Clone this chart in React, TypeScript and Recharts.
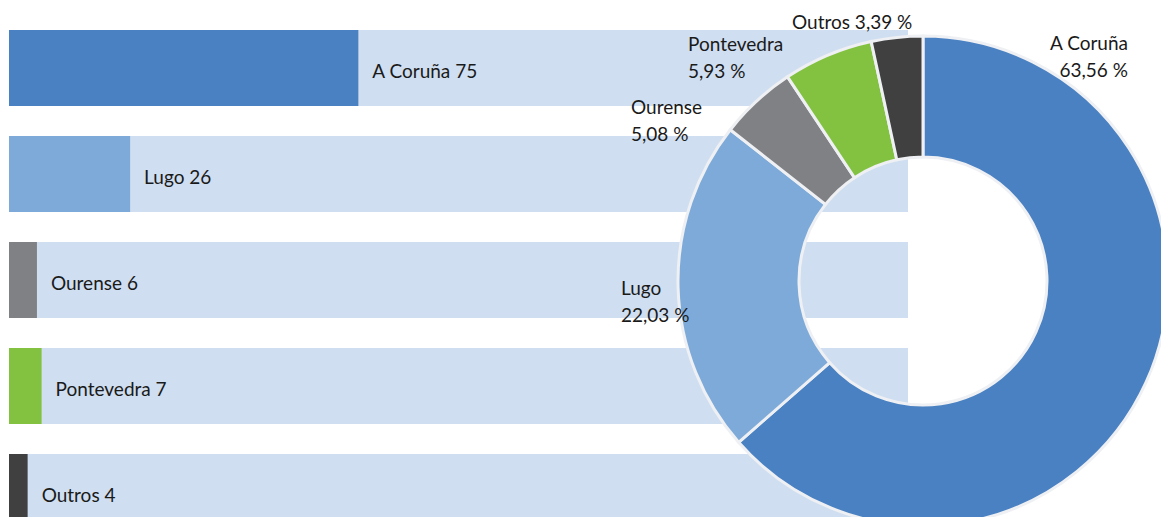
import React from "react";
import { BarChart, Bar, XAxis, YAxis, LabelList, PieChart, Pie, Cell } from "recharts";

const provinces = ["A Coruña", "Lugo", "Ourense", "Pontevedra", "Outros"];
const counts = [75, 26, 6, 7, 4];
const colors = ["#4a81c2", "#7eaad9", "#808184", "#83c241", "#404040"];

const total = counts.reduce((a, b) => a + b, 0);

const rows = provinces.map((name, i) => ({
	name,
	count: counts[i],
	label: `${name} ${counts[i]}`,
	share: (counts[i] / total * 100).toFixed(2).replace(".", ",") + " %",
}));

// where each donut label sits, relative to the centre
const pieLabelSpots = [
	{ dx: 205, dy: -231, anchor: "end", oneLine: false },
	{ dx: -302, dy: 14, anchor: "start", oneLine: false },
	{ dx: -292, dy: -167, anchor: "start", oneLine: false },
	{ dx: -235, dy: -230, anchor: "start", oneLine: false },
	{ dx: -131, dy: -252, anchor: "start", oneLine: true },
];

const FONT = "Lato, 'Open Sans', sans-serif";

const PieLabel = (props: any) => {
	const { cx, cy, index } = props;
	const spot = pieLabelSpots[index];
	const row = rows[index];
	const x = cx + spot.dx;
	const y = cy + spot.dy;
	if (spot.oneLine) {
		return (
			<text x={x} y={y} textAnchor={spot.anchor} fill='#1a1a1a' fontSize={19} fontFamily={FONT}>
				{`${row.name} ${row.share}`}
			</text>
		);
	}
	return (
		<text x={x} y={y} textAnchor={spot.anchor} fill='#1a1a1a' fontSize={19} fontFamily={FONT}>
			<tspan x={x}>{row.name}</tspan>
			<tspan x={x} dy={27}>{row.share}</tspan>
		</text>
	);
};

const App = () => {
	return (
		<div style={{ position: "relative", width: 1161, height: 517, overflow: "hidden", background: "#fff" }}>
			<style>{"body{margin:0}"}</style>
			<div style={{ position: "absolute", left: 0, top: 0 }}>
				<BarChart
					width={1161}
					height={560}
					data={rows}
					layout='vertical'
					margin={{ top: 15, right: 253, bottom: 15, left: 9 }}>
					<XAxis type='number' hide domain={[0, 193]} />
					<YAxis type='category' dataKey='name' hide />
					<Bar
						dataKey='count'
						barSize={76}
						background={{ fill: "#cfdef0" }}
						isAnimationActive={false}>
						{rows.map((r, i) => (
							<Cell key={r.name} fill={colors[i]} />
						))}
						<LabelList
							dataKey='label'
							position='right'
							offset={14}
							dy={3}
							fill='#1a1a1a'
							fontSize={19}
							fontFamily={FONT}
						/>
					</Bar>
				</BarChart>
			</div>
			<div style={{ position: "absolute", left: 0, top: 0 }}>
				<PieChart width={1161} height={560} margin={{ top: 0, right: 0, bottom: 0, left: 0 }}>
					<Pie
						data={rows}
						dataKey='count'
						nameKey='name'
						cx={923}
						cy={281}
						innerRadius={124}
						outerRadius={245}
						startAngle={90}
						endAngle={-270}
						stroke='#eef0f3'
						strokeWidth={3}
						label={PieLabel}
						labelLine={false}
						isAnimationActive={false}>
						{rows.map((r, i) => (
							<Cell key={r.name} fill={colors[i]} />
						))}
					</Pie>
				</PieChart>
			</div>
		</div>
	);
};

export default App;
